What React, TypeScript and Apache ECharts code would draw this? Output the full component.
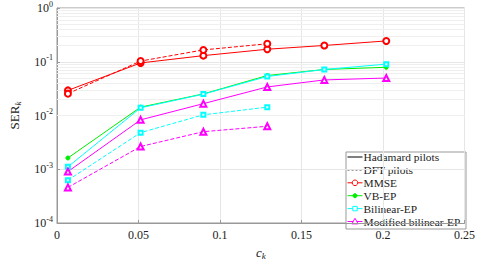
import React, { useEffect, useRef } from "react";
import * as echarts from "echarts";

const cKHad = [0.0067, 0.0513, 0.0898, 0.129, 0.164, 0.202];
const cKDft = [0.0067, 0.0513, 0.0898, 0.129];

const mmseHad = [0.0293, 0.095, 0.130, 0.171, 0.201, 0.244];
const mmseDft = [0.0255, 0.103, 0.166, 0.216];
const vbHad = [0.00162, 0.0143, 0.0252, 0.0554, 0.0718, 0.0789];
const bilHad = [0.00111, 0.0139, 0.025, 0.0532, 0.0718, 0.0903];
const modHad = [0.000904, 0.0083, 0.0166, 0.034, 0.0459, 0.0498];
const bilDft = [0.000626, 0.0048, 0.0103, 0.0143];
const modDft = [0.000459, 0.00265, 0.005, 0.0063];

const legendNames = ["Hadamard pilots", "DFT pilots", "MMSE", "VB-EP", "Bilinear-EP", "Modified bilinear-EP"];
const legendColors = ["#000000", "#000000", "#ff0000", "#00ee00", "#00ffff", "#ff00ff"];
const legendMarkers = ["none", "none", "circle", "dot", "square", "triangle"];
const xTicks = [0, 0.05, 0.1, 0.15, 0.2, 0.25];

const FONT = "'Liberation Serif', 'DejaVu Serif', serif";

function pairs(xs: number[], ys: number[]) {
  return xs.map((x, i) => [x, ys[i]]);
}

function legendGraphic() {
  const x0 = 346;
  const y0 = 152;
  const w = 120;
  const h = 77;
  const step = 12.9;
  const children: any[] = [
    { type: "rect", shape: { x: x0, y: y0, width: w, height: h }, style: { fill: "#fff", stroke: "#999", lineWidth: 1 } },
  ];
  legendNames.forEach((name, i) => {
    const cy = y0 + 5 + i * step;
    const color = legendColors[i];
    children.push({
      type: "line",
      shape: { x1: x0 + 1.5, y1: cy, x2: x0 + 16.5, y2: cy },
      style: { stroke: color, lineWidth: 1, lineDash: i === 1 ? [2, 2] : null },
    });
    const mx = x0 + 9;
    const m = legendMarkers[i];
    if (m === "circle") children.push({ type: "circle", shape: { cx: mx, cy, r: 2.8 }, style: { fill: "#fff", stroke: color, lineWidth: 1 } });
    if (m === "dot") children.push({ type: "circle", shape: { cx: mx, cy, r: 2 }, style: { fill: color, stroke: color, lineWidth: 1 } });
    if (m === "square") children.push({ type: "rect", shape: { x: mx - 2.2, y: cy - 2.2, width: 4.4, height: 4.4 }, style: { fill: "#fff", stroke: color, lineWidth: 1 } });
    if (m === "triangle")
      children.push({
        type: "polygon",
        shape: { points: [[mx, cy - 3.2], [mx - 3.2, cy + 2.4], [mx + 3.2, cy + 2.4]] },
        style: { fill: "#fff", stroke: color, lineWidth: 1 },
      });
    children.push({
      type: "text",
      x: x0 + 17.5,
      y: cy,
      style: { text: name, fontFamily: FONT, fontSize: 11.4, fill: "#222", verticalAlign: "middle", align: "left" },
    });
  });
  return { type: "group", z: 100, children };
}

export default function App() {
  const ref = useRef<HTMLDivElement>(null);
  useEffect(() => {
    if (!ref.current) return;
    const chart = echarts.init(ref.current, null, { renderer: "svg" });
    const minor: any[] = [];
    for (let e = -4; e < 0; e++) {
      for (let m = 2; m <= 9; m++) minor.push({ yAxis: m * Math.pow(10, e) });
    }
    const mk = (name: string, xs: number[], ys: number[], color: string, symbol: string, size: number, dashed: boolean) => ({
      name,
      type: "line",
      data: pairs(xs, ys),
      symbol,
      symbolSize: size,
      showSymbol: true,
      itemStyle: { color, borderColor: color, borderWidth: 1 },
      lineStyle: { color, width: 1, type: dashed ? [4, 2] : "solid" },
      z: 5,
    });
    const option: any = {
      animation: false,
      textStyle: { fontFamily: FONT },
      grid: { left: 41, right: 13, top: 7, bottom: 32, show: true, borderColor: "#999", borderWidth: 1, backgroundColor: "#fff" },
      xAxis: {
        type: "value",
        min: 0,
        max: 0.25,
        interval: 0.05,
        name: "{i|c}{s|k}",
        nameLocation: "middle",
        nameGap: 22,
        nameTextStyle: {
          fontFamily: FONT,
          rich: {
            i: { fontFamily: FONT, fontStyle: "italic", fontSize: 13, color: "#222" },
            s: { fontFamily: FONT, fontStyle: "italic", fontSize: 9, color: "#222", padding: [6, 0, 0, 0] },
          },
        },
        axisLine: { lineStyle: { color: "#999" } },
        axisTick: { inside: true, length: 3, lineStyle: { color: "#999" } },
        axisLabel: {
          fontFamily: FONT,
          fontSize: 12,
          color: "#222",
          margin: 6,
          formatter: (v: number) => String(xTicks.find((t) => Math.abs(t - v) < 1e-9) ?? v),
        },
        splitLine: { show: true, lineStyle: { color: "#e6e6e6", width: 1 } },
      },
      yAxis: {
        type: "log",
        logBase: 10,
        min: 1e-4,
        max: 1,
        name: "SER{s|k}",
        nameLocation: "middle",
        nameRotate: 90,
        nameGap: 35,
        nameTextStyle: {
          fontFamily: FONT,
          fontSize: 13,
          color: "#222",
          rich: { s: { fontFamily: FONT, fontStyle: "italic", fontSize: 9, color: "#222", padding: [6, 0, 0, 0] } },
        },
        axisLine: { lineStyle: { color: "#999" } },
        axisTick: { inside: true, length: 3, lineStyle: { color: "#999" } },
        axisLabel: {
          fontFamily: FONT,
          fontSize: 12,
          color: "#222",
          margin: 4,
          formatter: (v: number) => `{b|10}{e|${Math.round(Math.log10(v))}}`,
          rich: {
            b: { fontFamily: FONT, fontSize: 12, color: "#222" },
            e: { fontFamily: FONT, fontSize: 8, color: "#222", padding: [0, 0, 8, 0] },
          },
        },
        splitLine: { show: true, lineStyle: { color: "#e6e6e6", width: 1 } },
      },
      graphic: [legendGraphic()],
      series: [
        {
          name: "minor-grid",
          type: "line",
          data: [],
          silent: true,
          z: 1,
          markLine: {
            silent: true,
            symbol: ["none", "none"],
            label: { show: false },
            lineStyle: { color: "#efefef", width: 1, type: "solid" },
            data: minor,
          },
        },
        mk("MMSE", cKHad, mmseHad, "#ff0000", "emptyCircle", 6, false),
        mk("MMSE DFT", cKDft, mmseDft, "#ff0000", "emptyCircle", 6, true),
        mk("VB-EP", cKHad, vbHad, "#00ee00", "circle", 4, false),
        mk("Bilinear-EP", cKHad, bilHad, "#00ffff", "emptyRect", 4, false),
        mk("Bilinear-EP DFT", cKDft, bilDft, "#00ffff", "emptyRect", 4, true),
        mk("Modified bilinear-EP", cKHad, modHad, "#ff00ff", "emptyTriangle", 6, false),
        mk("Modified bilinear-EP DFT", cKDft, modDft, "#ff00ff", "emptyTriangle", 6, true),
      ],
    };
    chart.setOption(option);
    return () => chart.dispose();
  }, []);
  return <div ref={ref} style={{ width: 478, height: 265, position: "absolute", left: 0, top: 0 }} />;
}
